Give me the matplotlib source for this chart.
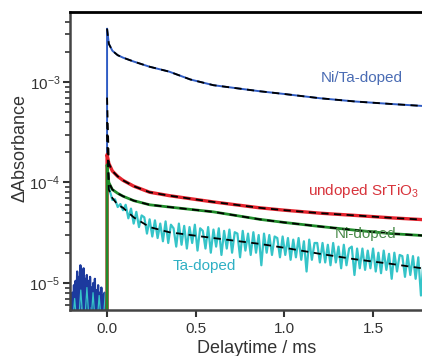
import numpy as np
import matplotlib
matplotlib.use("Agg")
import matplotlib.pyplot as plt
from matplotlib.ticker import LogLocator, NullFormatter

plt.rcParams['font.family'] = ['Liberation Sans', 'DejaVu Sans']
plt.rcParams['mathtext.fontset'] = 'custom'
plt.rcParams['mathtext.rm'] = 'Liberation Sans'

# DATA ------------------------------------------------------------------------
# smooth traces (time in ms, delta absorbance)
t_smooth = [0.0, 0.0, 0.01, 0.03, 0.06, 0.09, 0.15, 0.24, 0.35, 0.47, 0.6,
            0.86, 1.0, 1.2, 1.4, 1.6, 1.8]
undoped = [3e-6, 1.9e-4, 1.55e-4, 1.3e-4, 1.15e-4, 1.05e-4, 9.2e-5, 8.0e-5,
           7.4e-5, 6.9e-5, 6.4e-5, 5.6e-5, 5.3e-5, 4.95e-5, 4.7e-5, 4.45e-5,
           4.25e-5]
ni_doped = [3e-6, 1.5e-4, 1.0e-4, 8.5e-5, 7.8e-5, 7.3e-5, 6.6e-5, 6.0e-5,
            5.7e-5, 5.4e-5, 5.1e-5, 4.3e-5, 4.0e-5, 3.65e-5, 3.35e-5, 3.1e-5,
            2.95e-5]
nita_doped = [3e-6, 3.4e-3, 2.4e-3, 2.05e-3, 1.85e-3, 1.75e-3, 1.6e-3, 1.42e-3,
              1.27e-3, 1.06e-3, 9.3e-4, 8.1e-4, 7.6e-4, 6.9e-4, 6.4e-4,
              6.05e-4, 5.75e-4]

# fits (dashed)
t_fit = [0.0, 0.01, 0.03, 0.06, 0.09, 0.15, 0.24, 0.35, 0.47, 0.6, 0.86, 1.0,
         1.2, 1.4, 1.6, 1.8]
fit_undoped = [7e-4, 1.55e-4, 1.3e-4, 1.15e-4, 1.05e-4, 9.2e-5, 8.0e-5, 7.4e-5,
               6.9e-5, 6.4e-5, 5.6e-5, 5.3e-5, 4.95e-5, 4.7e-5, 4.45e-5, 4.25e-5]
fit_ni = [4e-4, 1.0e-4, 8.5e-5, 7.8e-5, 7.3e-5, 6.6e-5, 6.0e-5, 5.7e-5, 5.4e-5,
          5.1e-5, 4.3e-5, 4.0e-5, 3.65e-5, 3.35e-5, 3.1e-5, 2.95e-5]
fit_ta = [3e-4, 8.5e-5, 7.0e-5, 6.0e-5, 5.6e-5, 4.5e-5, 3.6e-5, 3.2e-5, 3.0e-5,
          2.8e-5, 2.45e-5, 2.24e-5, 1.95e-5, 1.72e-5, 1.55e-5, 1.38e-5]
fit_nita = [3.4e-3, 2.4e-3, 2.05e-3, 1.85e-3, 1.75e-3, 1.6e-3, 1.42e-3, 1.27e-3,
            1.06e-3, 9.3e-4, 8.1e-4, 7.6e-4, 6.9e-4, 6.4e-4, 6.05e-4, 5.75e-4]

# noisy Ta-doped trace, sampled every 0.015 ms
t_ta = np.linspace(0.0, 1.8, 121)
ta_doped = [1.05e-4, 8.3e-5, 6.7e-5, 6.8e-5, 5.7e-5, 6.1e-5, 5.3e-5, 6.0e-5,
            4.4e-5, 5.5e-5, 3.9e-5, 5.1e-5, 3.6e-5, 4.7e-5, 4.5e-5, 3.1e-5,
            4.3e-5, 2.9e-5, 4.2e-5, 2.8e-5, 3.9e-5, 2.6e-5, 4.1e-5, 2.5e-5,
            3.8e-5, 3.5e-5, 2.3e-5, 3.9e-5, 2.4e-5, 3.7e-5, 2.2e-5, 3.6e-5,
            2.5e-5, 3.8e-5, 2.1e-5, 3.5e-5, 3.3e-5, 2.2e-5, 3.6e-5, 2.0e-5,
            3.4e-5, 2.3e-5, 3.5e-5, 1.9e-5, 3.3e-5, 2.2e-5, 3.4e-5, 2.0e-5,
            3.2e-5, 3.1e-5, 1.8e-5, 3.3e-5, 2.1e-5, 3.1e-5, 1.9e-5, 3.2e-5,
            2.0e-5, 3.0e-5, 1.5e-5, 3.1e-5, 2.0e-5, 3.0e-5, 1.9e-5, 2.9e-5,
            2.8e-5, 1.8e-5, 2.9e-5, 1.9e-5, 2.8e-5, 1.7e-5, 2.7e-5, 1.8e-5,
            2.8e-5, 1.7e-5, 2.6e-5, 1.3e-5, 2.7e-5, 1.7e-5, 2.5e-5, 2.5e-5,
            1.6e-5, 2.5e-5, 1.6e-5, 2.4e-5, 1.5e-5, 2.5e-5, 1.6e-5, 2.3e-5,
            1.4e-5, 2.4e-5, 1.5e-5, 2.2e-5, 2.3e-5, 1.2e-5, 2.2e-5, 1.4e-5,
            2.2e-5, 1.35e-5, 2.1e-5, 1.4e-5, 2.2e-5, 1.3e-5, 2.0e-5, 1.25e-5,
            2.1e-5, 1.35e-5, 1.95e-5, 1.1e-5, 2.0e-5, 1.3e-5, 1.9e-5, 1.85e-5,
            1.15e-5, 1.9e-5, 1.2e-5, 1.85e-5, 1.1e-5, 1.8e-5, 7.5e-6, 1.75e-5,
            1.15e-5]

# baseline noise before the laser pulse
t_pre = np.linspace(-0.205, -0.005, 45)
pre_blue = [6e-6, 3e-6, 8e-6, 4e-6, 9.5e-6, 3e-6, 1.05e-5, 5e-6, 1.3e-5, 4e-6,
            1.15e-5, 3e-6, 1.5e-5, 6e-6, 1.25e-5, 3e-6, 1.4e-5, 5e-6, 1.1e-5,
            3e-6, 1.2e-5, 4e-6, 1.05e-5, 3e-6, 1.15e-5, 6e-6, 9e-6, 3e-6,
            1.0e-5, 4e-6, 1.1e-5, 3e-6, 8.5e-6, 5e-6, 9.5e-6, 3e-6, 8e-6, 4e-6,
            9e-6, 3e-6, 7.5e-6, 4e-6, 8e-6, 3e-6, 7e-6]
t_pre_cyan = np.linspace(-0.2, -0.01, 12)
pre_cyan = [3e-6, 7e-6, 3e-6, 8.5e-6, 3e-6, 9e-6, 3e-6, 8e-6, 3e-6, 7.5e-6,
            3e-6, 8e-6]

# PLOT ------------------------------------------------------------------------
fig = plt.figure(figsize=(4.22, 3.56), dpi=100)
ax = fig.add_axes([70/422, 46/356, 374/422, 298/356])

ax.plot(t_pre, pre_blue, color='#1c3a9e', lw=1.6)
ax.plot(t_pre_cyan, pre_cyan, color='#35c4c8', lw=0.9)
ax.plot(t_ta, ta_doped, color='#35c4c8', lw=1.6)
ax.plot(t_smooth, nita_doped, color='#2f5cc4', lw=1.4)
ax.plot(t_smooth, undoped, color='#e4222c', lw=2.4)
ax.plot(t_smooth, ni_doped, color='#1f8c2a', lw=2.0)

dash = dict(color='black', lw=1.3, ls=(0, (4, 3)))
ax.plot(t_fit, fit_undoped, **dash)
ax.plot(t_fit, fit_ni, **dash)
ax.plot(t_fit, fit_ta, **dash)
ax.plot(t_fit, fit_nita, **dash)

ax.set_yscale('log')
ax.set_xlim(-0.209, 1.9)
ax.set_ylim(5.38e-6, 4.98e-3)
ax.set_xticks([0.0, 0.5, 1.0, 1.5])
ax.set_xticklabels(['0.0', '0.5', '1.0', '1.5'])
ax.yaxis.set_major_locator(LogLocator(base=10, numticks=10))
ax.yaxis.set_minor_locator(LogLocator(base=10, subs=np.arange(2, 10), numticks=20))
ax.yaxis.set_minor_formatter(NullFormatter())

ax.tick_params(axis='both', which='major', labelsize=11, colors='#333333',
               direction='out', length=5, width=1.5)
ax.tick_params(axis='y', which='major', pad=2)
ax.tick_params(axis='y', which='minor', direction='out', length=3.5, width=1.2,
               colors='#333333')
for side in ['left', 'bottom']:
    ax.spines[side].set_color('#444444')
    ax.spines[side].set_linewidth(1.8)
ax.spines['top'].set_color('black')
ax.spines['top'].set_linewidth(2)

ax.set_xlabel('Delaytime / ms', fontsize=13, color='#333333', labelpad=3)
ax.set_ylabel('\u0394Absorbance', fontsize=13, color='#333333')
ax.yaxis.set_label_coords(-0.112, 0.545)

# labels
ax.text(1.438, 1.1e-3, 'Ni/Ta-doped', color='#4a6cb4', fontsize=11, ha='center', va='center')
ax.text(1.134, 8.2e-5, 'undoped SrTiO$_3$', color='#d8343c', fontsize=11, ha='left', va='center')
ax.text(1.286, 3.05e-5, 'Ni-doped', color='#4c8c4c', fontsize=11, ha='left', va='center')
ax.text(0.547, 1.47e-5, 'Ta-doped', color='#2fb0c4', fontsize=11, ha='center', va='center')

plt.savefig('out.png', dpi=100)
